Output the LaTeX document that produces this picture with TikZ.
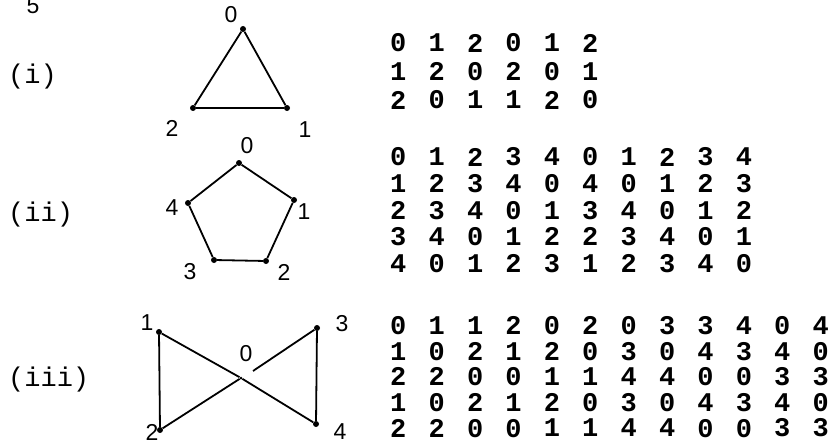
\documentclass[tikz,border=0pt]{standalone}
\usepackage{fontspec}
\newfontfamily\monofam{Liberation Mono}
\newfontfamily\labfam{Liberation Sans}
\begin{document}
\begin{tikzpicture}[x=1pt,y=-1pt,
  vtx/.style={circle,fill=black,inner sep=0pt,minimum size=6pt},
  edge/.style={line width=1.8pt},
  lbl/.style={font=\labfam\fontsize{23}{23}\selectfont,inner sep=0pt},
  num/.style={font=\monofam\bfseries\fontsize{27}{27}\selectfont,inner sep=0pt},
  tag/.style={font=\monofam\fontsize{27}{27}\selectfont,anchor=west,inner sep=0pt}]
\useasboundingbox (0,0) rectangle (832,444);
% top-left fragment
\node[lbl,anchor=south] (five) at (33,14) {5};
% row tags
\node[tag] (tagi) at (8,77) {(i)};
\node[tag] (tagii) at (8,215) {(ii)};
\node[tag] (tagiii) at (8,380) {(iii)};
% triangle
\node[vtx] (t0) at (243,29) {};
\node[vtx] (t1) at (287,108) {};
\node[vtx] (t2) at (193,108) {};
\draw[edge] (t0) -- (t1) -- (t2) -- (t0);
\node[lbl] (lt0) at (231,15) {0};
\node[lbl] (lt1) at (305,130) {1};
\node[lbl] (lt2) at (172,128) {2};
% pentagon
\node[vtx] (p0) at (239,163) {};
\node[vtx] (p1) at (294,200) {};
\node[vtx] (p2) at (266,261) {};
\node[vtx] (p3) at (214,260) {};
\node[vtx] (p4) at (188,203) {};
\draw[edge] (p0) -- (p1) -- (p2) -- (p3) -- (p4) -- (p0);
\node[lbl] (lp0) at (247,146) {0};
\node[lbl] (lp1) at (304,212) {1};
\node[lbl] (lp2) at (284,272) {2};
\node[lbl] (lp3) at (190,272) {3};
\node[lbl] (lp4) at (172,208) {4};
% bowtie
\node[vtx] (b1) at (159,332) {};
\node[vtx] (b2) at (160,430) {};
\node[vtx,minimum size=3pt] (b0) at (241,378) {};
\node[vtx] (b3) at (317,328) {};
\node[vtx] (b4) at (316,424) {};
\coordinate (bgap) at (253,371);
\draw[edge] (b1) -- (b0) -- (b4) -- (b3) -- (bgap);
\draw[edge] (b1) -- (b2) -- (b0);
\node[lbl] (lb0) at (246,354) {0};
\node[lbl] (lb1) at (147,323) {1};
\node[lbl] (lb2) at (152,432) {2};
\node[lbl] (lb3) at (342,324) {3};
\node[lbl] (lb4) at (340,432) {4};
% matrices
\foreach \row [count=\r] in {{0,1,2,0,1,2},{1,2,0,2,0,1},{2,0,1,1,2,0}}{
  \foreach \d [count=\c] in \row {
    \node[num] (ma-\r-\c) at ({398.3+38.4*(\c-1)},{43+28.5*(\r-1)}) {\d};
  }
}
\foreach \row [count=\r] in {{0,1,2,3,4,0,1,2,3,4},{1,2,3,4,0,4,0,1,2,3},{2,3,4,0,1,3,4,0,1,2},{3,4,0,1,2,2,3,4,0,1},{4,0,1,2,3,1,2,3,4,0}}{
  \foreach \d [count=\c] in \row {
    \node[num] (mb-\r-\c) at ({398.3+38.4*(\c-1)},{157+26.6*(\r-1)}) {\d};
  }
}
\foreach \row [count=\r] in {{0,1,1,2,0,2,0,3,3,4,0,4},{1,0,2,1,2,0,3,0,4,3,4,0},{2,2,0,0,1,1,4,4,0,0,3,3},{1,0,2,1,2,0,3,0,4,3,4,0},{2,2,0,0,1,1,4,4,0,0,3,3}}{
  \foreach \d [count=\c] in \row {
    \node[num] (mc-\r-\c) at ({398.3+38.4*(\c-1)},{325.7+25.6*(\r-1)}) {\d};
  }
}
\end{tikzpicture}
\end{document}
